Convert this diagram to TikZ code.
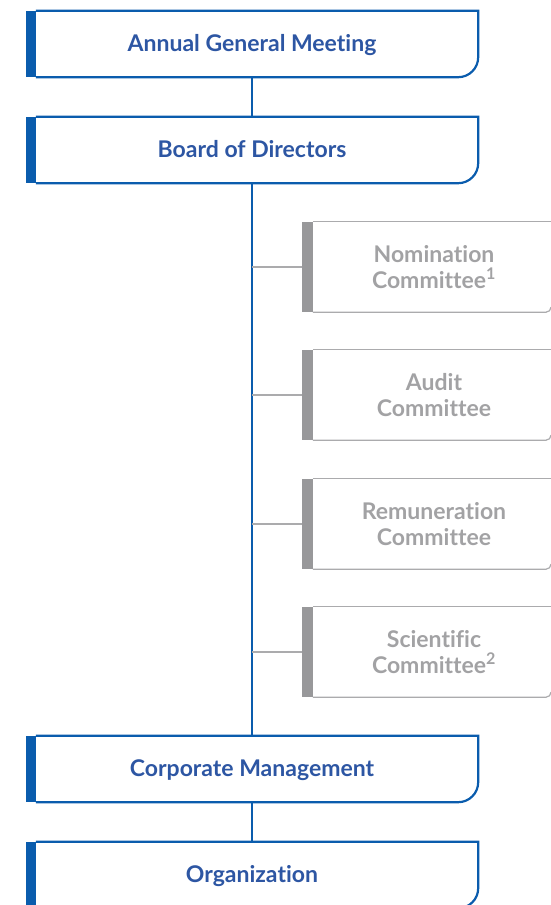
\documentclass[tikz,border=0pt]{standalone}
\usepackage{fontspec}
\setmainfont[Ligatures=NoCommon]{Lato}
\usetikzlibrary{calc}
\definecolor{lineblue}{HTML}{0A5CAD}
\definecolor{txtblue}{HTML}{2D56A3}
\definecolor{bargray}{HTML}{98989A}
\definecolor{txtgray}{HTML}{A2A2A4}
\definecolor{linegray}{HTML}{ABABAD}
\tikzset{
  mainbox/.style={minimum width=452pt, minimum height=66pt, inner sep=0pt,
    text height=19.5pt, text depth=4pt,
    font=\fontsize{23}{26}\selectfont\bfseries, text=txtblue},
  combox/.style={minimum width=264pt, minimum height=90pt, inner sep=0pt, align=center,
    font=\fontsize{23}{26}\selectfont\bfseries, text=txtgray},
  blueline/.style={draw=lineblue, line width=2.2pt},
  grayline/.style={draw=linegray, line width=1.2pt},
}
\newcommand{\mainframe}[1]{%
  \fill[lineblue] (#1.north west) rectangle ([xshift=10pt]#1.south west);
  \draw[blueline] ([xshift=10pt]#1.north west) -- (#1.north east)
    -- ([yshift=20pt]#1.south east) arc[start angle=0, end angle=-90, radius=20pt]
    -- ([xshift=10pt]#1.south west);
}
\newcommand{\comframe}[1]{%
  \fill[bargray] (#1.north west) rectangle ([xshift=11pt]#1.south west);
  \draw[grayline] ([xshift=11pt]#1.north west) -- (#1.north -| R);
  \draw[grayline] ([xshift=11pt]#1.south west) -- ([xshift=-5pt]#1.south -| R)
    arc[start angle=-90, end angle=0, radius=5pt];
}
\begin{document}
\begin{tikzpicture}[x=1pt, y=-1pt]
\useasboundingbox (0,0) rectangle (551,905);
\coordinate (R) at (551,0);
\node[mainbox] (agm) at (252,44) {Annual General Meeting};
\node[mainbox] (bod) at (252,150) {Board of Directors};
\node[mainbox] (cm) at (252,769) {Corporate Management};
\node[mainbox] (org) at (252,875) {Organization};
\node[combox] (nc) at (434,267) {Nomination\\Committee\textsuperscript{1}};
\node[combox] (ac) at (434,395) {Audit\\Committee};
\node[combox] (rc) at (434,524) {Remuneration\\Committee};
\node[combox] (sc) at (434,652) {Scientific\\Committee\textsuperscript{2}};
\mainframe{agm}
\mainframe{bod}
\mainframe{cm}
\mainframe{org}
\comframe{nc}
\comframe{ac}
\comframe{rc}
\comframe{sc}
\draw[blueline] (agm.south) -- (bod.north);
\draw[blueline] (bod.south) -- (cm.north);
\draw[blueline] (cm.south) -- (org.north);
\foreach \c in {nc,ac,rc,sc} {
  \draw[grayline] (bod.south |- \c.west) -- (\c.west);
}
\end{tikzpicture}
\end{document}
